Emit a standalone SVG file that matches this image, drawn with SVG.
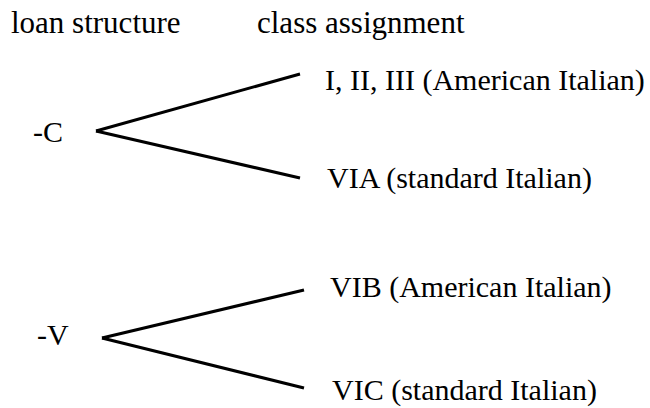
<svg xmlns="http://www.w3.org/2000/svg" width="650" height="408" viewBox="0 0 650 408">
<style>
text{font-family:"Liberation Serif","Times New Roman",serif;font-size:30px;fill:#000}
.h{font-size:31px}
.c{stroke:#000;stroke-width:3;fill:none;stroke-linecap:butt}
</style>
<rect width="650" height="408" fill="#fff"/>
<g id="header-loan"><text class="h" x="11" y="33">loan structure</text></g>
<g id="header-class"><text class="h" x="257" y="33">class assignment</text></g>
<g id="node-C"><text x="33" y="142">-C</text></g>
<g id="node-I-II-III"><text x="325" y="90">I, II, III (American Italian)</text></g>
<g id="node-VIA"><text x="327" y="188">VIA (standard Italian)</text></g>
<g id="node-V"><text x="37" y="345">-V</text></g>
<g id="node-VIB"><text x="330" y="297">VIB (American Italian)</text></g>
<g id="node-VIC"><text x="332" y="400">VIC (standard Italian)</text></g>
<g id="connectors">
<path class="c" d="M96,131 L300,74"/>
<path class="c" d="M96,131 L300,178"/>
<path class="c" d="M102,338 L304,290"/>
<path class="c" d="M102,338 L304,388"/>
</g>
</svg>
